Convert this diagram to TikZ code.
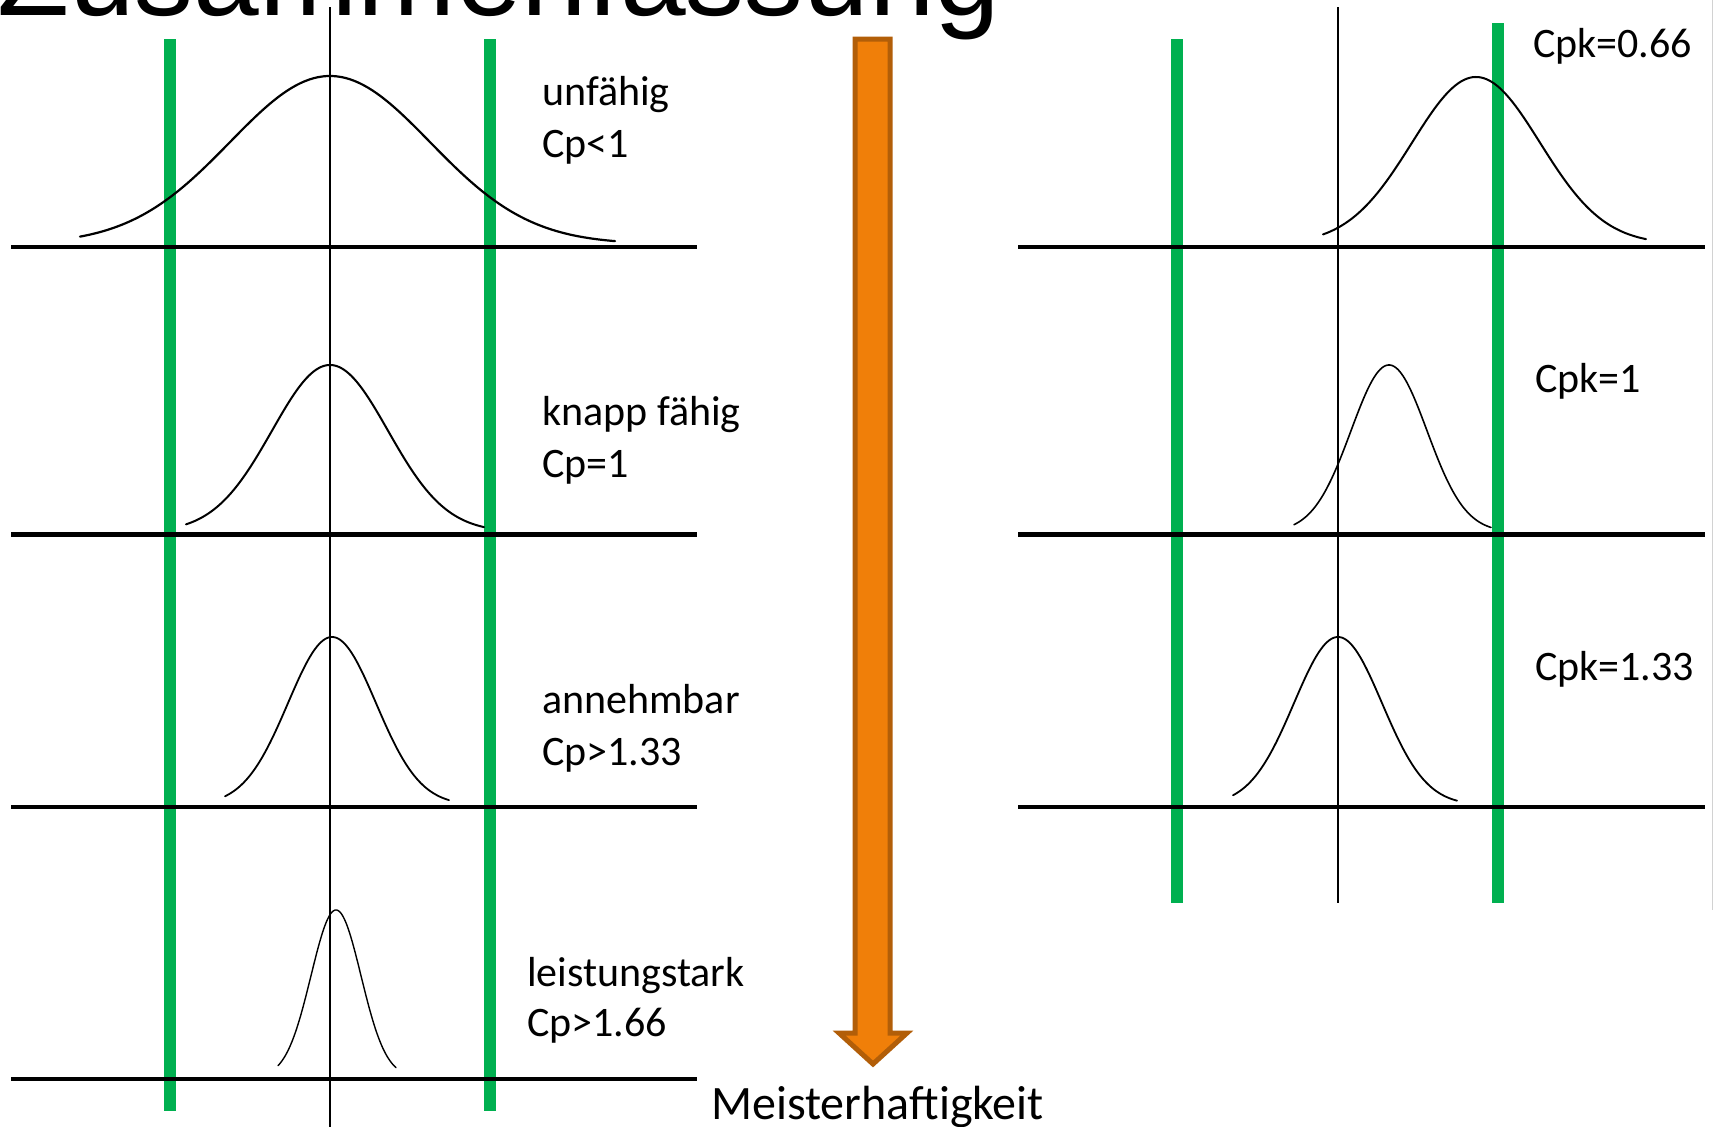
\documentclass[tikz,border=0pt]{standalone}
\usepackage{fontspec}
\setmainfont{Carlito}
\newfontfamily\titlefont{Liberation Sans}
\definecolor{specgreen}{RGB}{0,176,80}
\definecolor{arroworange}{RGB}{240,127,9}
\definecolor{arrowedge}{RGB}{178,94,8}
\newcommand\gausscurve[7]{% cx, sigma, xl, xr, foot y, height, width
  \draw[line width=#7, line join=round, line cap=round]
    plot[domain=#3:#4, samples=120, variable=\t]
    ({\t+#1}, {#5-#6*exp(-0.5*(\t/#2)^2)});}
\begin{document}
\begin{tikzpicture}[x=1pt, y=-1pt,
  axisline/.style={line width=4.5pt},
  centerline/.style={line width=1.4pt},
  speclimit/.style={draw=specgreen, line width=12pt},
  lbl/.style={anchor=base west, inner sep=0pt, font=\fontsize{42}{50}\selectfont},
]
\useasboundingbox (0,0) rectangle (1714,1127);
% title (cut off at the top, as in the original)
\node[anchor=base west, inner sep=0pt, font=\titlefont\fontsize{118}{130}\selectfont] (title) at (-3,16) {Zusammenfassung};

% faint frame line at right edge
\draw[gray!35, line width=1.5pt] (1712.5,0) -- (1712.5,910);

% ---------- left panel ----------
\draw[centerline] (330,7) -- (330,1127);
\draw[speclimit] (170,39) -- (170,1111);
\draw[speclimit] (490,39) -- (490,1111);
\foreach \yy in {247,534.5,807,1079} \draw[axisline] (11,\yy) -- (697,\yy);

\gausscurve{330}{100}{-250}{285}{244}{168}{2.2pt}
\gausscurve{330}{58}{-144}{154}{532}{167}{2pt}
\gausscurve{332}{44}{-107}{117}{805}{168}{1.8pt}
\gausscurve{336}{25}{-58}{60}{1077}{167}{1.4pt}

\node[lbl] (l1a) at (542,105) {unfähig};
\node[lbl] (l1b) at (542,157) {Cp<1};
\node[lbl] (l2a) at (542,425) {knapp fähig};
\node[lbl] (l2b) at (542,477) {Cp=1};
\node[lbl] (l3a) at (542,713) {annehmbar};
\node[lbl] (l3b) at (542,765) {Cp>1.33};
\node[lbl] (l4a) at (527,986) {leistungstark};
\node[lbl] (l4b) at (527,1036) {Cp>1.66};

% ---------- arrow ----------
\draw[fill=arroworange, draw=arrowedge, line width=5pt, line join=miter]
  (855,39) -- (890,39) -- (890,1033) -- (907,1033) -- (873,1064) -- (839,1033) -- (855,1033) -- cycle;
\node[anchor=base west, inner sep=0pt, font=\fontsize{48}{56}\selectfont] (master) at (711,1119) {Meisterhaftigkeit};

% ---------- right panel ----------
\draw[centerline] (1338,7) -- (1338,903);
\draw[speclimit] (1177,39) -- (1177,903);
\draw[speclimit] (1497.5,23) -- (1497.5,903);
\foreach \yy in {247,534.5,807} \draw[axisline] (1018,\yy) -- (1705,\yy);

\gausscurve{1476}{64}{-153}{170}{244}{167}{2pt}
\gausscurve{1389}{38}{-95}{102}{532}{167}{1.6pt}
\gausscurve{1338}{44}{-105}{119}{805}{168}{1.8pt}

\node[lbl] (r1) at (1533,57) {Cpk=0.66};
\node[lbl] (r2) at (1535,392) {Cpk=1};
\node[lbl] (r3) at (1535,680) {Cpk=1.33};
\end{tikzpicture}
\end{document}
